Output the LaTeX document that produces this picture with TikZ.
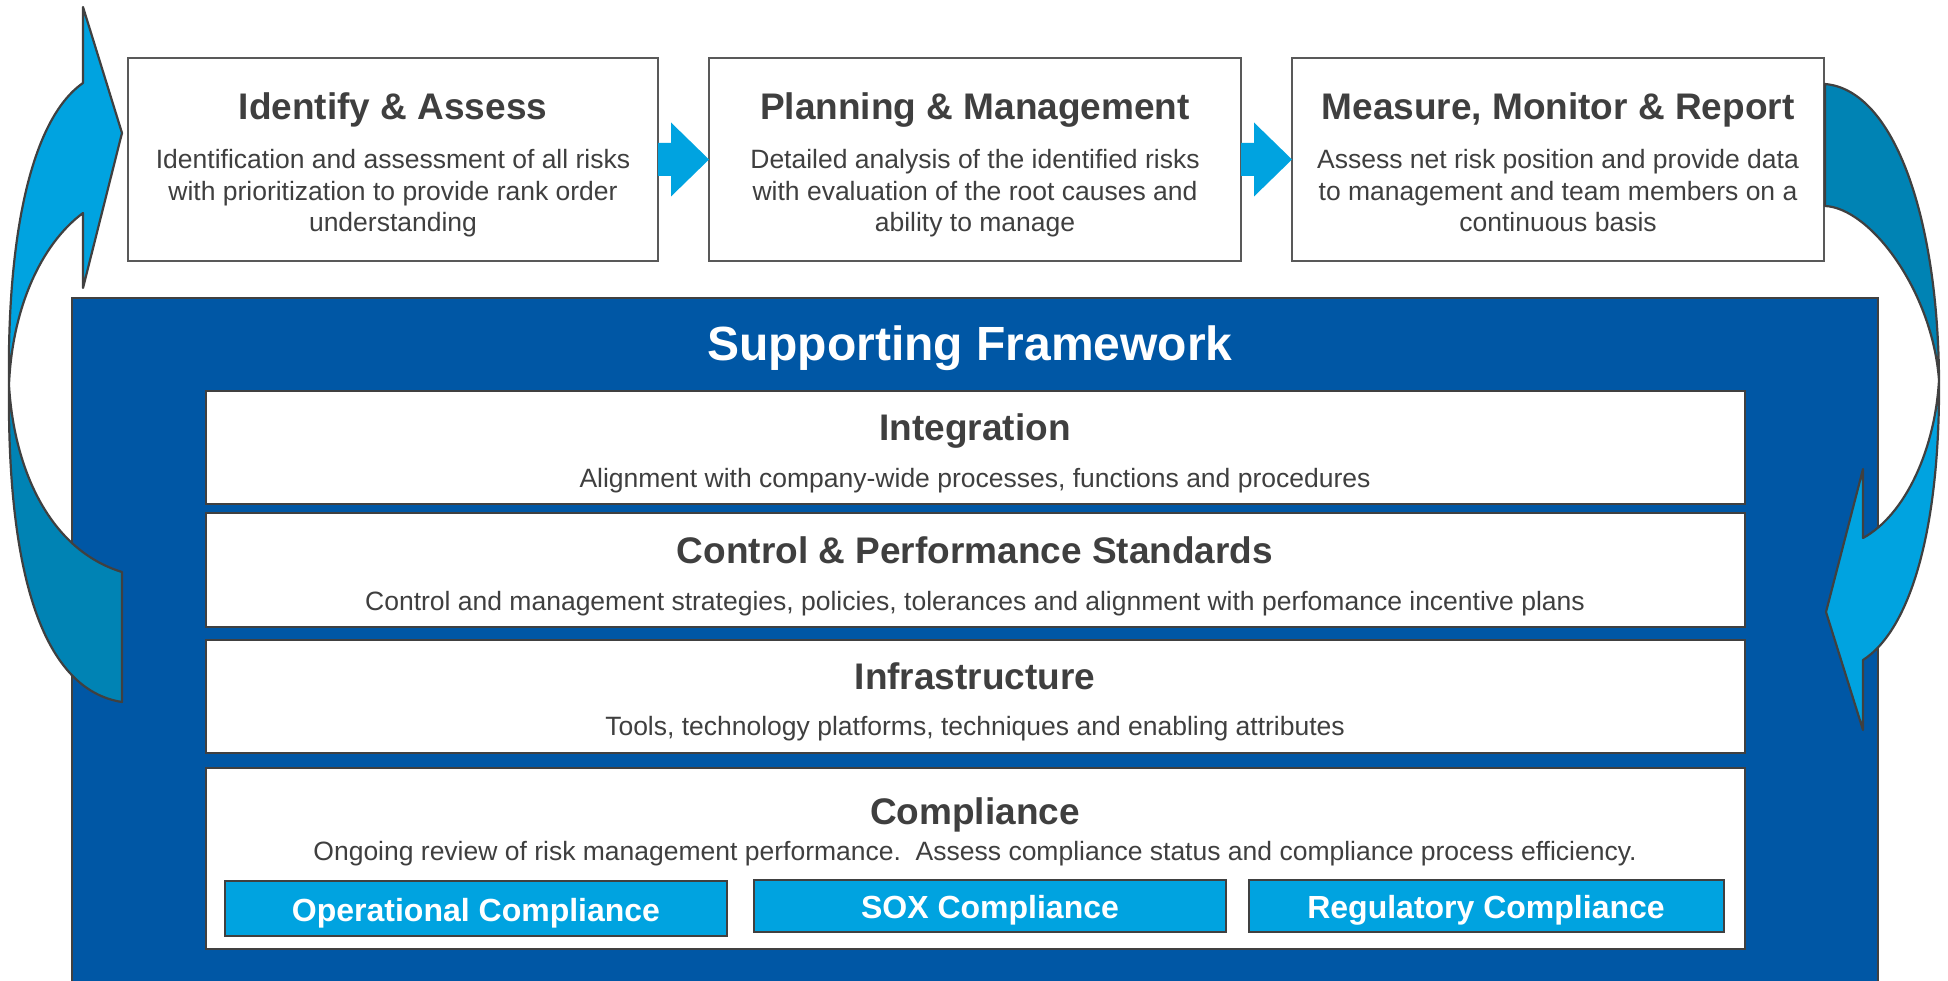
\documentclass[tikz,border=0pt]{standalone}
\usepackage{fontspec}
\setmainfont{Liberation Sans}
\usetikzlibrary{calc}
\definecolor{txtgray}{HTML}{3F3F3F}
\definecolor{edgegray}{HTML}{404040}
\definecolor{boxgray}{HTML}{595959}
\definecolor{framebl}{HTML}{0057A5}
\definecolor{lightbl}{HTML}{00A3E0}
\definecolor{tealbl}{HTML}{0083B4}
\begin{document}
\begin{tikzpicture}[x=1pt,y=-1pt,
  topbox/.style={draw=boxgray, line width=2pt, fill=white, inner sep=0pt, outer sep=0pt, anchor=north west},
  framebox/.style={draw=edgegray, line width=2pt, fill=framebl, inner sep=0pt, outer sep=0pt, anchor=north west},
  layerbox/.style={draw=edgegray, line width=2.5pt, fill=white, inner sep=0pt, outer sep=0pt, anchor=north west},
  subbox/.style={draw=edgegray, line width=2.5pt, fill=lightbl, inner sep=0pt, outer sep=0pt, anchor=north west},
  ttl/.style={inner sep=0pt, anchor=base, text=txtgray, font=\fontsize{37}{44}\selectfont\bfseries},
  body/.style={inner sep=0pt, anchor=base, text=txtgray, font=\fontsize{26.5}{31.5}\selectfont},
  bigttl/.style={inner sep=0pt, anchor=base, text=white, font=\fontsize{48}{56}\selectfont\bfseries},
  subttl/.style={inner sep=0pt, anchor=base, text=white, font=\fontsize{32}{38}\selectfont\bfseries},
  smallarrow/.style={fill=lightbl},
  curvefront/.style={fill=lightbl, draw=edgegray, line width=2.2pt, line join=round},
  curveback/.style={fill=tealbl, draw=edgegray, line width=2.2pt, line join=round}
]
\useasboundingbox (0,0) rectangle (1948,981);

% top process boxes
\node[topbox, minimum width=530pt, minimum height=203pt] (b1) at (128,58) {};
\node[topbox, minimum width=532pt, minimum height=203pt] (b2) at (709,58) {};
\node[topbox, minimum width=532pt, minimum height=203pt] (b3) at (1292,58) {};

\node[ttl] (b1t) at (393,119.5) {Identify \& Assess};
\node[body] (b1a) at (393,168.5) {Identification and assessment of all risks};
\node[body] (b1b) at (393,200.5) {with prioritization to provide rank order};
\node[body] (b1c) at (393,231.5) {understanding};

\node[ttl] (b2t) at (975,119.5) {Planning \& Management};
\node[body] (b2a) at (975,168.5) {Detailed analysis of the identified risks};
\node[body] (b2b) at (975,200.5) {with evaluation of the root causes and};
\node[body] (b2c) at (975,231.5) {ability to manage};

\node[ttl] (b3t) at (1558,119.5) {Measure, Monitor \& Report};
\node[body] (b3a) at (1558,168.5) {Assess net risk position and provide data};
\node[body] (b3b) at (1558,200.5) {to management and team members on a};
\node[body] (b3c) at (1558,231.5) {continuous basis};

% small arrows between boxes
\fill[smallarrow] ($(b1.east)+(0,-16.5)$) -- ($(b1.east)+(13,-16.5)$) -- ($(b1.east)+(13,-37)$) -- (b2.west)
  -- ($(b1.east)+(13,37)$) -- ($(b1.east)+(13,16.5)$) -- ($(b1.east)+(0,16.5)$) -- cycle;
\fill[smallarrow] ($(b2.east)+(0,-16.5)$) -- ($(b2.east)+(13,-16.5)$) -- ($(b2.east)+(13,-37)$) -- (b3.west)
  -- ($(b2.east)+(13,37)$) -- ($(b2.east)+(13,16.5)$) -- ($(b2.east)+(0,16.5)$) -- cycle;

% supporting framework
\node[framebox, minimum width=1806pt, minimum height=690pt] (fw) at (72,298) {};
\node[bigttl] (fwt) at (970,360.5) {Supporting Framework};

\node[layerbox, minimum width=1539pt, minimum height=113pt] (l1) at (206,391) {};
\node[ttl] (l1t) at (975,440.5) {Integration};
\node[body] (l1b) at (975,487) {Alignment with company-wide processes, functions and procedures};

\node[layerbox, minimum width=1539pt, minimum height=114pt] (l2) at (206,513) {};
\node[ttl] (l2t) at (975,563.5) {Control \& Performance Standards};
\node[body] (l2b) at (975,610.5) {Control and management strategies, policies, tolerances and alignment with perfomance incentive plans};

\node[layerbox, minimum width=1539pt, minimum height=113pt] (l3) at (206,640) {};
\node[ttl] (l3t) at (975,689.5) {Infrastructure};
\node[body] (l3b) at (975,735) {Tools, technology platforms, techniques and enabling attributes};

\node[layerbox, minimum width=1539pt, minimum height=181pt] (l4) at (206,768) {};
\node[ttl] (l4t) at (975,824.5) {Compliance};
\node[body] (l4b) at (975,860.5) {Ongoing review of risk management performance.\ \ Assess compliance status and compliance process efficiency.};

\node[subbox, minimum width=502pt, minimum height=55pt] (s1) at (225,881) {};
\node[subttl] (s1t) at (476,921) {Operational Compliance};
\node[subbox, minimum width=472pt, minimum height=52pt] (s2) at (754,880) {};
\node[subttl] (s2t) at (990,918.5) {SOX Compliance};
\node[subbox, minimum width=475pt, minimum height=52pt] (s3) at (1249,880) {};
\node[subttl] (s3t) at (1486,918.5) {Regulatory Compliance};

% left curved arrow
\path[curveback] (9,385) .. controls (7,580) and (45,690) .. (122,702) -- (122,572)
  .. controls (50,550) and (14,470) .. (9,385) -- cycle;
\path[curvefront] (83,7) -- (83,83) .. controls (30,120) and (7,240) .. (9,385)
  .. controls (12,310) and (40,245) .. (83,213) -- (83,288) -- (122,133) -- cycle;

% right curved arrow
\path[curveback] (1825,84) .. controls (1895,90) and (1938,220) .. (1939,380)
  .. controls (1932,290) and (1870,208) .. (1825,206) -- cycle;
\path[curvefront] (1939,380) .. controls (1940,530) and (1910,630) .. (1863,660) -- (1863,730) -- (1826,612)
  -- (1863,469) -- (1863,538) .. controls (1905,515) and (1935,450) .. (1939,380) -- cycle;
\end{tikzpicture}
\end{document}
